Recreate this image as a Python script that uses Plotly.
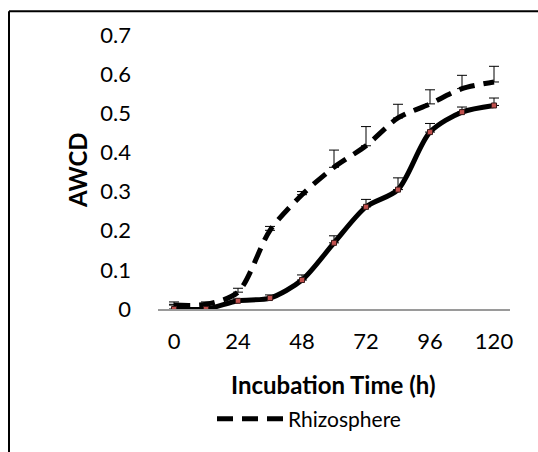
import plotly.graph_objects as go

hours = [0, 12, 24, 36, 48, 60, 72, 84, 96, 108, 120]
x_ticks = [0, 24, 48, 72, 96, 120]

rhizosphere = [0.010, 0.012, 0.043, 0.201, 0.292, 0.362, 0.417, 0.488, 0.524, 0.563, 0.580]
rhizosphere_err = [0.008, 0.006, 0.010, 0.010, 0.008, 0.044, 0.049, 0.035, 0.036, 0.034, 0.040]

bulk = [0.000, 0.000, 0.021, 0.028, 0.074, 0.169, 0.261, 0.305, 0.452, 0.503, 0.520]
bulk_err = [0.012, 0.006, 0.005, 0.008, 0.013, 0.018, 0.019, 0.030, 0.022, 0.013, 0.019]

FONT = "Lato"

# plot-area geometry in page pixels
L, R, T, B = 158, 510, 35, 311
PW, PH = R - L, B - T


def px(x):
    return (x - L) / PW


def py(y):
    return (B - y) / PH


fig = go.Figure()

fig.add_trace(go.Scatter(
    x=hours, y=rhizosphere, name="Rhizosphere", mode="lines",
    line=dict(color="black", width=5, dash="16px,9px", shape="spline", smoothing=0.8),
    error_y=dict(type="data", array=rhizosphere_err, arrayminus=[0] * len(hours),
                 symmetric=False, color="black", thickness=1, width=5),
    showlegend=True,
))

fig.add_trace(go.Scatter(
    x=hours, y=bulk, name="Bulk soil", mode="lines+markers",
    line=dict(color="black", width=5, shape="spline", smoothing=0.8),
    marker=dict(symbol="square", size=5, color="#C0504D", line=dict(color="#3a1a1a", width=1)),
    error_y=dict(type="data", array=bulk_err, arrayminus=[0] * len(hours),
                 symmetric=False, color="black", thickness=1, width=5),
    showlegend=False,
))

fig.update_layout(
    width=538, height=452,
    margin=dict(l=L, r=538 - R, t=T, b=452 - B),
    paper_bgcolor="white", plot_bgcolor="white",
    font=dict(family=FONT, size=22, color="black"),
    xaxis=dict(
        range=[-6, 126], tickvals=x_ticks, ticktext=[str(t) for t in x_ticks],
        showgrid=False, zeroline=False, showline=True, linecolor="#9a9a9a", linewidth=2,
        ticks="", ticklabelstandoff=12,
        tickfont=dict(family=FONT, size=22),
    ),
    yaxis=dict(
        range=[0, 0.7], dtick=0.1, tickformat="~g",
        showgrid=False, zeroline=False, showline=False,
        ticks="", ticklabelstandoff=26,
        tickfont=dict(family=FONT, size=22),
    ),
    legend=dict(
        orientation="h", x=px(212), xanchor="left", y=py(422), yanchor="middle",
        itemwidth=66,
        font=dict(family=FONT, size=21), bgcolor="rgba(0,0,0,0)",
    ),
    showlegend=True,
)

# axis titles
fig.add_annotation(text="<b>Incubation Time (h)</b>", xref="paper", yref="paper",
                   x=px(333), y=py(387), xanchor="center", yanchor="middle",
                   showarrow=False, font=dict(family=FONT, size=24))
fig.add_annotation(text="<b>AWCD</b>", xref="paper", yref="paper",
                   x=px(77), y=py(171), xanchor="center", yanchor="middle", textangle=-90,
                   showarrow=False, font=dict(family=FONT, size=24))

# cut-off text at the very top of the page
fig.add_annotation(text="ident.", xref="paper", yref="paper",
                   x=px(-2), y=py(6), xanchor="left", yanchor="bottom",
                   showarrow=False, font=dict(family=FONT, size=20))

# frame (left and top edges of the surrounding box)
fig.add_shape(type="line", xref="paper", yref="paper",
              x0=px(9), x1=px(9), y0=py(460), y1=py(11),
              line=dict(color="black", width=2))
fig.add_shape(type="line", xref="paper", yref="paper",
              x0=px(9), x1=px(545), y0=py(11), y1=py(11),
              line=dict(color="black", width=2))

fig.write_html("out.html", config={"displayModeBar": False},
               post_script="document.body.style.margin='0';")
